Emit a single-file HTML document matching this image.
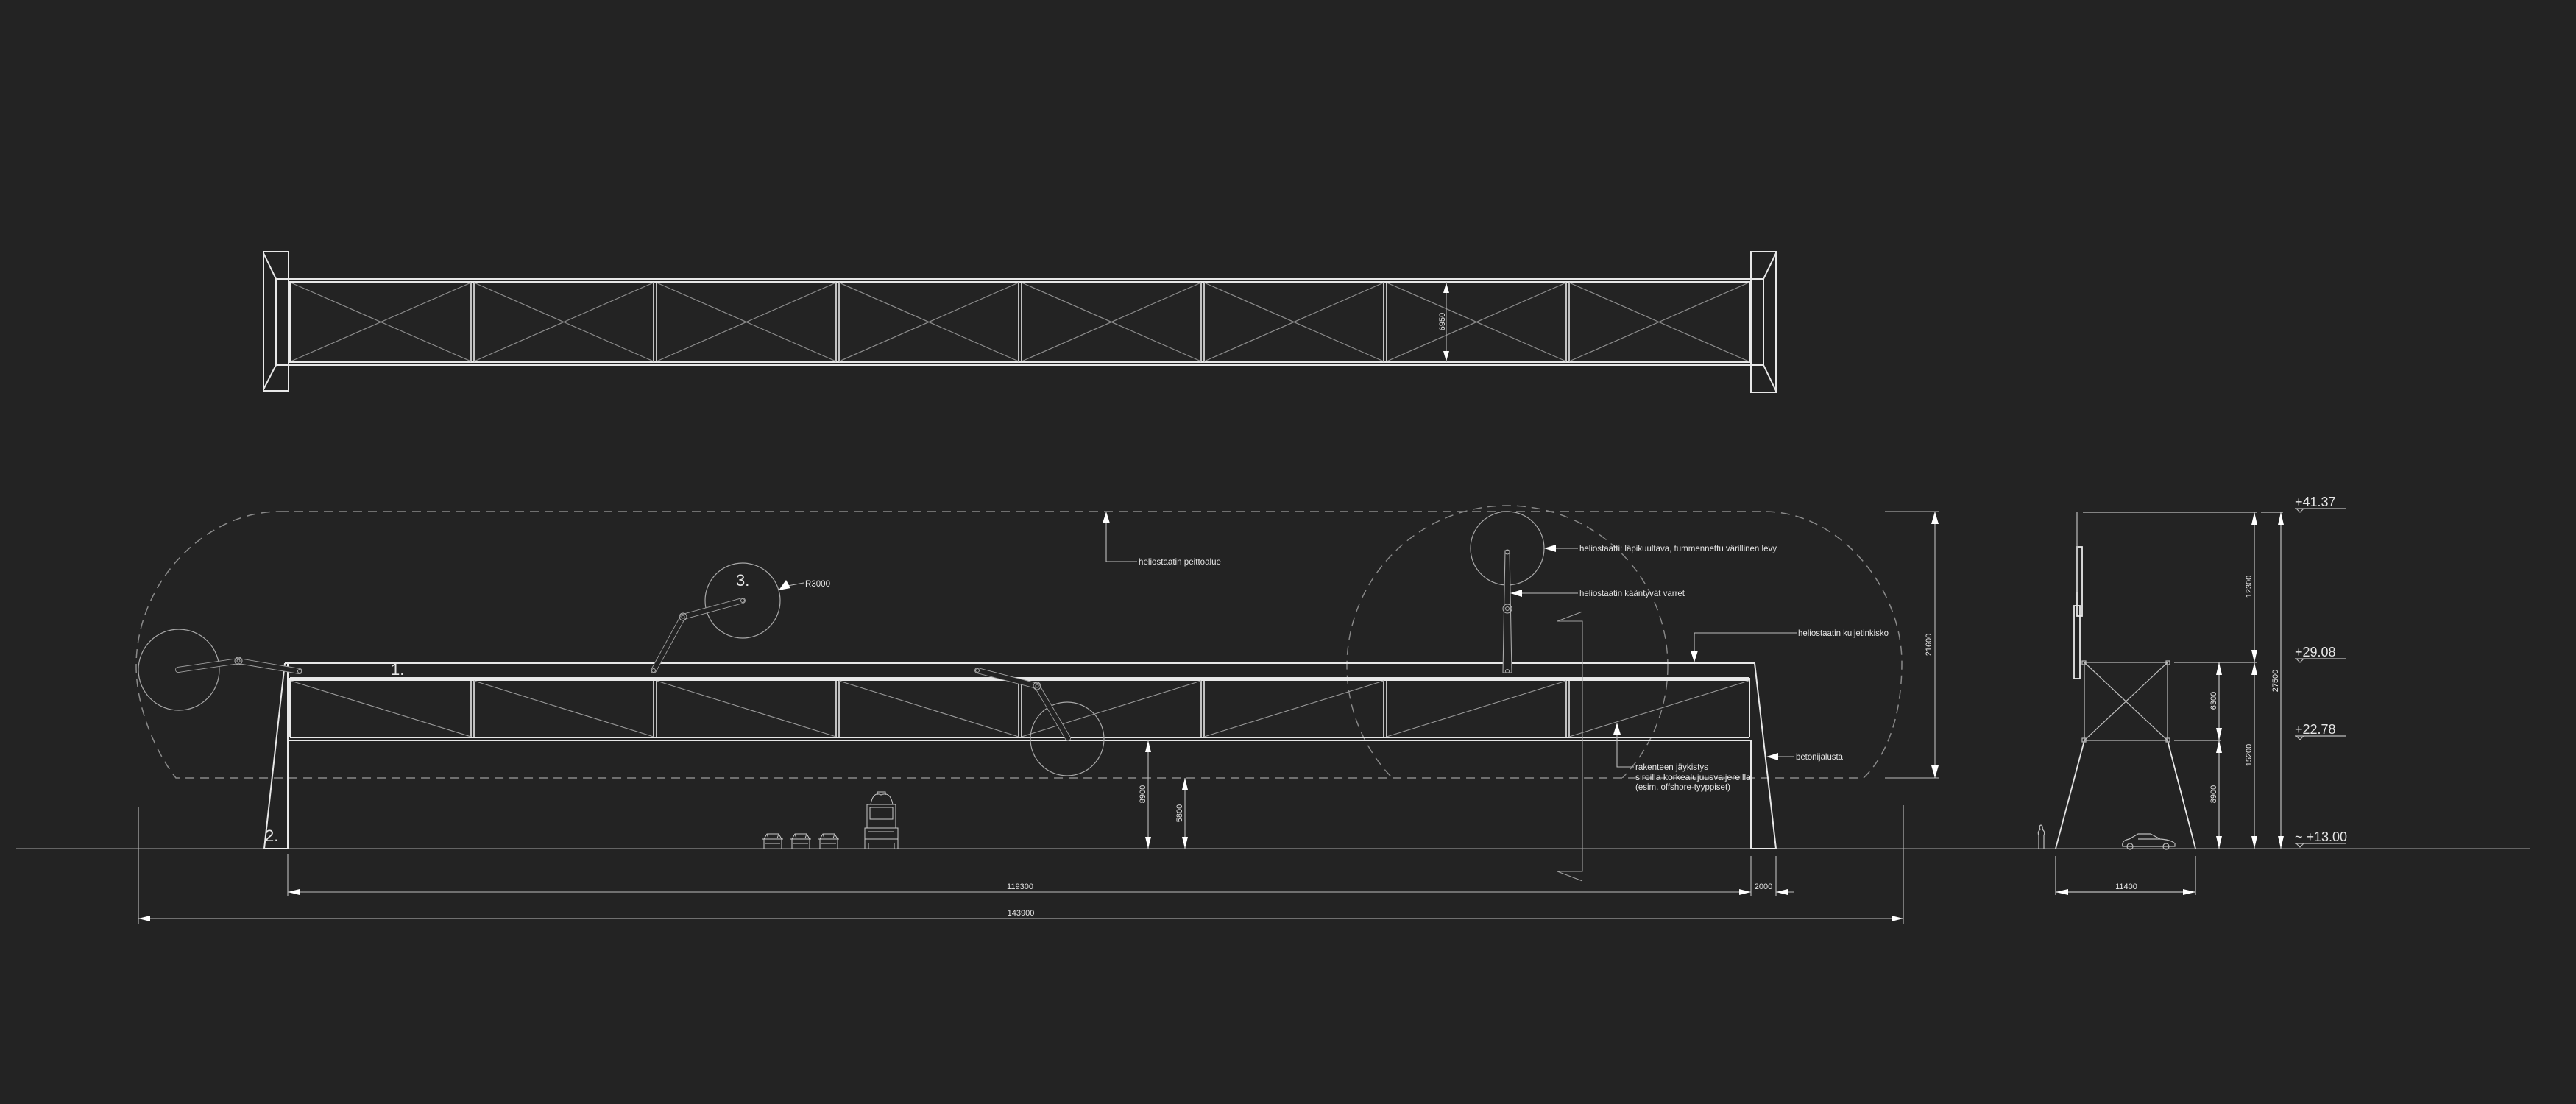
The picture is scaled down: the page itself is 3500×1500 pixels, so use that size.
<!DOCTYPE html>
<html><head><meta charset="utf-8"><style>
html,body{margin:0;padding:0;background:#232323;}
svg{display:block}
text{font-family:"Liberation Sans",sans-serif;fill:#e6e6e6}
</style></head><body>
<svg width="3500" height="1500" viewBox="0 0 3500 1500" xmlns="http://www.w3.org/2000/svg">
<rect width="3500" height="1500" fill="#232323"/>
<defs><clipPath id="cc"><rect x="0" y="0" width="3500" height="1057"/></clipPath></defs>

<!-- ============ TOP PLAN ============ -->
<g stroke="#e8e8e8" stroke-width="2" fill="none">
<rect x="358" y="342" width="34" height="189"/>
<polyline points="358,344 375,379 375,496 358,529"/>
<rect x="2379" y="342" width="34" height="191"/>
<polyline points="2413,344 2396,379 2396,496 2413,531"/>
<line x1="375" y1="379" x2="2396" y2="379"/>
<line x1="375" y1="496" x2="2396" y2="496"/>
<line x1="392" y1="383" x2="2379" y2="383"/>
<line x1="392" y1="492" x2="2379" y2="492"/>
<line x1="394" y1="383" x2="394" y2="492"/>
<line x1="2377" y1="383" x2="2377" y2="492"/>
</g>
<g stroke="#e8e8e8" stroke-width="1.6">
<line x1="640" y1="383" x2="640" y2="492"/><line x1="644" y1="383" x2="644" y2="492"/>
<line x1="888" y1="383" x2="888" y2="492"/><line x1="892" y1="383" x2="892" y2="492"/>
<line x1="1136" y1="383" x2="1136" y2="492"/><line x1="1140" y1="383" x2="1140" y2="492"/>
<line x1="1384" y1="383" x2="1384" y2="492"/><line x1="1388" y1="383" x2="1388" y2="492"/>
<line x1="1632" y1="383" x2="1632" y2="492"/><line x1="1636" y1="383" x2="1636" y2="492"/>
<line x1="1880" y1="383" x2="1880" y2="492"/><line x1="1884" y1="383" x2="1884" y2="492"/>
<line x1="2128" y1="383" x2="2128" y2="492"/><line x1="2132" y1="383" x2="2132" y2="492"/>
</g>
<g stroke="#8c8c8c" stroke-width="1.2">
<line x1="395" y1="384" x2="640" y2="491"/><line x1="395" y1="491" x2="640" y2="384"/>
<line x1="644" y1="384" x2="888" y2="491"/><line x1="644" y1="491" x2="888" y2="384"/>
<line x1="892" y1="384" x2="1136" y2="491"/><line x1="892" y1="491" x2="1136" y2="384"/>
<line x1="1140" y1="384" x2="1384" y2="491"/><line x1="1140" y1="491" x2="1384" y2="384"/>
<line x1="1388" y1="384" x2="1632" y2="491"/><line x1="1388" y1="491" x2="1632" y2="384"/>
<line x1="1636" y1="384" x2="1880" y2="491"/><line x1="1636" y1="491" x2="1880" y2="384"/>
<line x1="1884" y1="384" x2="2128" y2="491"/><line x1="1884" y1="491" x2="2128" y2="384"/>
<line x1="2132" y1="384" x2="2376" y2="491"/><line x1="2132" y1="491" x2="2376" y2="384"/>
</g>
<line x1="1965" y1="383" x2="1965" y2="492" stroke="#aaa" stroke-width="1.2"/>
<polygon points="1965,384 1961,398 1969,398" fill="#fff"/>
<polygon points="1965,491 1961,477 1969,477" fill="#fff"/>
<text x="0" y="0" font-size="11" transform="translate(1963,437) rotate(-90)" text-anchor="middle">6950</text>

<!-- ============ ELEVATION ============ -->
<path d="M380,695 L2397,695 C2500,695 2584,800 2584,900 C2584,980 2560,1030 2532,1057 L239,1057 C210,1020 185,960 185,905 C185,790 280,695 380,695 Z" fill="none" stroke="#8a8a8a" stroke-width="1.5" stroke-dasharray="12 8"/>
<circle cx="2048" cy="905" r="218" fill="none" stroke="#8a8a8a" stroke-width="1.4" stroke-dasharray="12 8" clip-path="url(#cc)"/>

<line x1="22" y1="1153" x2="3437" y2="1153" stroke="#7a7a7a" stroke-width="1.6"/>

<g stroke="#e8e8e8" stroke-width="2" fill="none">
<line x1="387" y1="901" x2="2384" y2="901"/>
<line x1="394" y1="921" x2="2377" y2="921"/>
<line x1="394" y1="924" x2="2377" y2="924"/>
<line x1="394" y1="1002" x2="2377" y2="1002"/>
<line x1="391" y1="1006" x2="2379" y2="1006"/>
<polyline points="387,901 359,1153 391,1153 391,901"/>
<line x1="394" y1="921" x2="394" y2="1002"/>
<polyline points="2384,901 2413,1153 2379,1153 2379,1006"/>
<line x1="2377" y1="921" x2="2377" y2="1002"/>
</g>
<g stroke="#e8e8e8" stroke-width="1.6">
<line x1="640" y1="924" x2="640" y2="1002"/><line x1="644" y1="924" x2="644" y2="1002"/>
<line x1="888" y1="924" x2="888" y2="1002"/><line x1="892" y1="924" x2="892" y2="1002"/>
<line x1="1136" y1="924" x2="1136" y2="1002"/><line x1="1140" y1="924" x2="1140" y2="1002"/>
<line x1="1384" y1="924" x2="1384" y2="1002"/><line x1="1388" y1="924" x2="1388" y2="1002"/>
<line x1="1632" y1="924" x2="1632" y2="1002"/><line x1="1636" y1="924" x2="1636" y2="1002"/>
<line x1="1880" y1="924" x2="1880" y2="1002"/><line x1="1884" y1="924" x2="1884" y2="1002"/>
<line x1="2128" y1="924" x2="2128" y2="1002"/><line x1="2132" y1="924" x2="2132" y2="1002"/>
</g>
<g stroke="#9a9a9a" stroke-width="1.1">
<line x1="395" y1="925" x2="640" y2="1001"/>
<line x1="644" y1="925" x2="888" y2="1001"/>
<line x1="892" y1="925" x2="1136" y2="1001"/>
<line x1="1140" y1="925" x2="1384" y2="1001"/>
<line x1="1388" y1="1001" x2="1632" y2="925"/>
<line x1="1636" y1="1001" x2="1880" y2="925"/>
<line x1="1884" y1="1001" x2="2128" y2="925"/>
<line x1="2132" y1="1001" x2="2376" y2="925"/>
</g>

<g fill="none" stroke="#a8a8a8" stroke-width="1.2">
<circle cx="243" cy="910" r="55"/>
<circle cx="1009" cy="816" r="51"/>
<circle cx="1450" cy="1004" r="50"/>
<circle cx="2048" cy="745" r="50"/>
</g>
<g stroke-linecap="round" fill="none">
<g stroke="#a0a0a0" stroke-width="8">
<polyline points="242,910 324,898 407,912"/>
<polyline points="1009,816 928,838 888,911"/>
<polyline points="1328,911 1409,932 1451,1003"/>
</g>
<g stroke="#232323" stroke-width="6.2">
<polyline points="242,910 324,898 407,912"/>
<polyline points="1009,816 928,838 888,911"/>
<polyline points="1328,911 1409,932 1451,1003"/>
</g>
</g>
<polygon points="2045,748 2051,748 2054,914 2042,914" fill="#232323" stroke="#a8a8a8" stroke-width="1.1"/>
<g fill="none" stroke="#b0b0b0" stroke-width="1">
<circle cx="324" cy="898" r="5"/><circle cx="324" cy="898" r="2"/>
<circle cx="407" cy="912" r="2.5"/><circle cx="928" cy="838" r="5"/><circle cx="928" cy="838" r="2"/>
<circle cx="888" cy="911" r="2.5"/><circle cx="1328" cy="911" r="2.5"/><circle cx="1409" cy="932" r="5"/><circle cx="1409" cy="932" r="2"/>
<circle cx="1009" cy="816" r="2.5"/><circle cx="2048" cy="827" r="6"/><circle cx="2048" cy="827" r="2.5"/><circle cx="2048" cy="912" r="2.5"/><circle cx="2048" cy="750" r="3"/>
</g>

<polyline points="2150,831 2116,844 2150,844 2150,1184 2116,1184 2150,1197" fill="none" stroke="#a0a0a0" stroke-width="1.1"/>

<text x="531" y="917" font-size="22">1.</text>
<text x="360" y="1143" font-size="22">2.</text>
<text x="1000" y="796" font-size="22">3.</text>

<g stroke="#bdbdbd" stroke-width="1.1" fill="none">
<line x1="2110" y1="745" x2="2144" y2="745"/>
<line x1="2064" y1="806" x2="2144" y2="806"/>
<polyline points="2441,860 2302,860 2302,886"/>
<polyline points="2220,1042 2197,1042 2197,996"/>
<line x1="2414" y1="1028" x2="2438" y2="1028"/>
<polyline points="1545,763 1503,763 1503,710"/>
<line x1="1070" y1="796" x2="1092" y2="792"/>
</g>
<g fill="#fff">
<polygon points="2098,745 2114,740 2114,750"/>
<polygon points="2052,806 2068,801 2068,811"/>
<polygon points="2302,900 2297,884 2307,884"/>
<polygon points="2197,982 2192,998 2202,998"/>
<polygon points="2400,1028 2416,1023 2416,1033"/>
<polygon points="1503,695 1498,711 1508,711"/>
<polygon points="1058,802 1068,788 1074,799"/>
</g>
<g font-size="12">
<text x="2146" y="749" textLength="268" lengthAdjust="spacingAndGlyphs">heliostaatti: läpikuultava, tummennettu värillinen levy</text>
<text x="2146" y="810" textLength="143" lengthAdjust="spacingAndGlyphs">heliostaatin kääntyvät varret</text>
<text x="2443" y="864" textLength="123" lengthAdjust="spacingAndGlyphs">heliostaatin kuljetinkisko</text>
<text x="2440" y="1032" textLength="64" lengthAdjust="spacingAndGlyphs">betonijalusta</text>
<text x="2222" y="1046" textLength="99" lengthAdjust="spacingAndGlyphs">rakenteen jäykistys</text>
<text x="2222" y="1060" textLength="157" lengthAdjust="spacingAndGlyphs">siroilla korkealujuusvaijereilla</text>
<text x="2222" y="1073" textLength="129" lengthAdjust="spacingAndGlyphs">(esim. offshore-tyyppiset)</text>
<text x="1547" y="767" textLength="112" lengthAdjust="spacingAndGlyphs">heliostaatin peittoalue</text>
<text x="1094" y="797" textLength="34" lengthAdjust="spacingAndGlyphs">R3000</text>
</g>

<g stroke="#bdbdbd" stroke-width="1.1">
<line x1="2629" y1="695" x2="2629" y2="1057"/>
<line x1="2561" y1="695" x2="2634" y2="695"/>
<line x1="2561" y1="1057" x2="2634" y2="1057"/>
<line x1="1560" y1="1006" x2="1560" y2="1153"/>
<line x1="1610" y1="1057" x2="1610" y2="1153"/>
<line x1="391" y1="1160" x2="391" y2="1218"/>
<line x1="2379" y1="1163" x2="2379" y2="1218"/>
<line x1="2413" y1="1163" x2="2413" y2="1218"/>
<line x1="391" y1="1212" x2="2379" y2="1212"/>
<line x1="2413" y1="1212" x2="2437" y2="1212"/>
<line x1="188" y1="1097" x2="188" y2="1255"/>
<line x1="2586" y1="1094" x2="2586" y2="1255"/>
<line x1="188" y1="1248" x2="2586" y2="1248"/>
</g>
<g fill="#fff">
<polygon points="2629,695 2624,712 2634,712"/><polygon points="2629,1057 2624,1040 2634,1040"/>
<polygon points="1560,1006 1556,1022 1564,1022"/><polygon points="1560,1153 1556,1137 1564,1137"/>
<polygon points="1610,1057 1606,1073 1614,1073"/><polygon points="1610,1153 1606,1137 1614,1137"/>
<polygon points="391,1212 407,1208 407,1216"/><polygon points="2379,1212 2363,1208 2363,1216"/>
<polygon points="2413,1212 2429,1208 2429,1216"/>
<polygon points="188,1248 204,1244 204,1252"/><polygon points="2586,1248 2570,1244 2570,1252"/>
</g>
<g font-size="11" text-anchor="middle">
<text transform="translate(2624,876) rotate(-90)">21600</text>
<text transform="translate(1556,1079) rotate(-90)">8900</text>
<text transform="translate(1606,1105) rotate(-90)">5800</text>
<text x="1386" y="1208">119300</text>
<text x="2396" y="1208">2000</text>
<text x="1387" y="1244">143900</text>
</g>

<g fill="none" stroke="#c8c8c8" stroke-width="1">
<g id="car"><path d="M1038,1153 V1140 L1042,1133 H1058 L1062,1140 V1153 M1036,1140 H1064 M1040,1146 H1060 M1042,1133 L1044,1139 M1058,1133 L1056,1139"/></g>
<use href="#car" x="38"/><use href="#car" x="76"/>
<path d="M1175,1153 V1125 H1220 V1153 M1178,1125 V1093 H1217 V1125 M1182,1097 H1213 V1113 H1182 Z M1183,1093 Q1186,1075 1197,1080 Q1210,1075 1213,1093 M1192,1080 V1076 H1203 V1080 M1180,1130 H1215 M1175,1140 H1220 M1180,1153 V1146 M1215,1153 V1146"/>
</g>

<!-- ============ RIGHT SECTION ============ -->
<g stroke="#e8e8e8" stroke-width="1.8" fill="none">
<line x1="2793" y1="1153" x2="2832" y2="1006"/>
<line x1="2983" y1="1153" x2="2945" y2="1006"/>
<rect x="2822" y="743" width="7" height="94"/>
<rect x="2818" y="823" width="8" height="99"/>
</g>
<g stroke="#bdbdbd" stroke-width="1.2" fill="none">
<line x1="2822" y1="696" x2="2822" y2="804"/>
<rect x="2832" y="900" width="113" height="106"/>
<line x1="2832" y1="900" x2="2945" y2="1006"/>
<line x1="2945" y1="900" x2="2832" y2="1006"/>
<rect x="2829" y="898" width="5" height="5"/><rect x="2943" y="898" width="5" height="5"/>
<rect x="2829" y="1003" width="5" height="5"/><rect x="2943" y="1003" width="5" height="5"/>
<line x1="2830" y1="696" x2="3066" y2="696"/>
<line x1="3072" y1="696" x2="3102" y2="696"/>
<line x1="2954" y1="900" x2="3066" y2="900"/>
<line x1="2954" y1="1006" x2="3018" y2="1006"/>
<line x1="3063" y1="696" x2="3063" y2="1153"/>
<line x1="3099" y1="696" x2="3099" y2="1153"/>
<line x1="3015" y1="900" x2="3015" y2="1153"/>
<line x1="2793" y1="1163" x2="2793" y2="1216"/>
<line x1="2983" y1="1163" x2="2983" y2="1216"/>
<line x1="2793" y1="1212" x2="2983" y2="1212"/>
<line x1="3118" y1="691" x2="3187" y2="691"/>
<line x1="3118" y1="895" x2="3187" y2="895"/>
<line x1="3118" y1="1000" x2="3187" y2="1000"/>
<line x1="3118" y1="1146" x2="3187" y2="1146"/>
<polyline points="3120,691 3125,696 3130,691"/>
<polyline points="3120,895 3125,900 3130,895"/>
<polyline points="3120,1000 3125,1005 3130,1000"/>
<polyline points="3120,1146 3125,1151 3130,1146"/>
<path d="M2770,1153 V1135 Q2768,1130 2772,1127 Q2770,1122 2773,1121 Q2776,1122 2775,1127 Q2779,1130 2777,1135 V1153"/>
<path d="M2884,1150 Q2882,1142 2893,1140 L2905,1133 H2922 L2935,1140 Q2950,1141 2955,1146 V1150 Z M2905,1140 H2935"/>
<circle cx="2894" cy="1150" r="4"/><circle cx="2943" cy="1150" r="4"/>
</g>
<g fill="#fff">
<polygon points="3063,696 3059,713 3067,713"/><polygon points="3063,900 3059,883 3067,883"/>
<polygon points="3063,900 3059,917 3067,917"/><polygon points="3063,1153 3059,1136 3067,1136"/>
<polygon points="3099,696 3095,713 3103,713"/><polygon points="3099,1153 3095,1136 3103,1136"/>
<polygon points="3015,900 3011,917 3019,917"/><polygon points="3015,1006 3011,989 3019,989"/>
<polygon points="3015,1006 3011,1023 3019,1023"/><polygon points="3015,1153 3011,1136 3019,1136"/>
<polygon points="2793,1212 2810,1208 2810,1216"/><polygon points="2983,1212 2966,1208 2966,1216"/>
</g>
<g font-size="11" text-anchor="middle">
<text transform="translate(3059,797) rotate(-90)">12300</text>
<text transform="translate(3095,925) rotate(-90)">27500</text>
<text transform="translate(3011,952) rotate(-90)">6300</text>
<text transform="translate(3059,1026) rotate(-90)">15200</text>
<text transform="translate(3011,1079) rotate(-90)">8900</text>
<text x="2889" y="1208">11400</text>
</g>
<g font-size="18">
<text x="3118" y="688">+41.37</text>
<text x="3118" y="892">+29.08</text>
<text x="3118" y="997">+22.78</text>
<text x="3118" y="1143">~ +13.00</text>
</g>
</svg>
</body></html>
